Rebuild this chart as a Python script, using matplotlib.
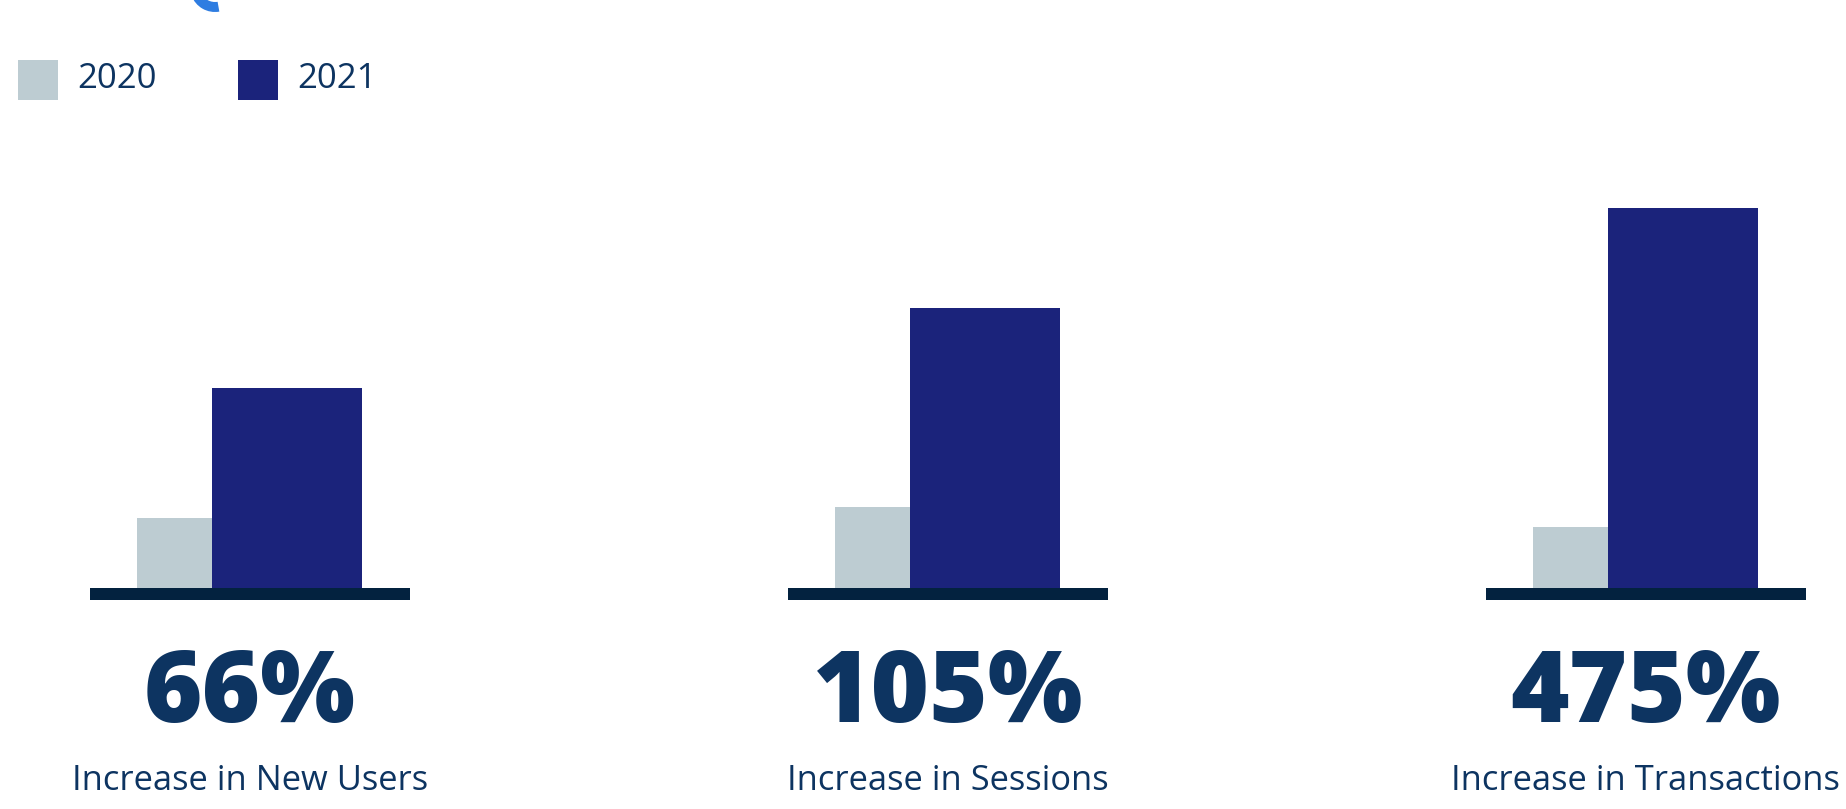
import matplotlib
matplotlib.use("Agg")
import matplotlib.pyplot as plt
from matplotlib.patches import Rectangle, Wedge

# data (bar heights in arbitrary units)
categories = ["Increase in New Users", "Increase in Sessions", "Increase in Transactions"]
pct_labels = ["66%", "105%", "475%"]
vals_2020 = [70, 81, 61]
vals_2021 = [200, 280, 380]
years = ["2020", "2021"]

GRAY = "#bdccd2"
NAVY = "#1b237b"
BASE = "#03223f"
TEXT = "#0d3461"

W, H = 1846, 809
fig = plt.figure(figsize=(W / 100, H / 100), dpi=100)
ax = fig.add_axes([0, 0, 1, 1])
ax.set_axis_off()

# one x unit = distance between group centres (~698 px)
unit = 698.1
x0 = 249.7
ax.set_xlim(-x0 / unit, (W - x0) / unit)
ax.set_ylim(-(H - 588), 588)

xs = list(range(len(categories)))
ax.bar([x - 0.1077 for x in xs], vals_2020, width=0.1074, color=GRAY, lw=0)
ax.bar([x + 0.0534 for x in xs], vals_2021, width=0.2149, color=NAVY, lw=0)
ax.bar(xs, [12] * len(xs), bottom=-12, width=0.4584, color=BASE, lw=0)

for x, pct, cat in zip(xs, pct_labels, categories):
    ax.text(x, -134, pct, ha="center", va="baseline", fontsize=72,
            fontweight="heavy", family=["Open Sans", "DejaVu Sans"], color=TEXT)
    ax.text(x, -202, cat, ha="center", va="baseline", fontsize=24.8,
            family=["Open Sans", "DejaVu Sans"], color=TEXT)

# legend drawn by hand at top-left
for i, (yr, col) in enumerate(zip(years, [GRAY, NAVY])):
    left = 18 + i * 220
    fig.patches.append(Rectangle((left / W, (H - 100) / H), 40 / W, 40 / H,
                                 transform=fig.transFigure, color=col, lw=0))
    fig.text((left + 59) / W, (H - 88) / H, yr, fontsize=25, color=TEXT,
             family=["Open Sans", "DejaVu Sans"], va="baseline")

# bit of a blue logo cut off at the top edge
fig.patches.append(Wedge((2.15, 8.22), 0.25, 200, 280, width=0.1,
                         transform=fig.dpi_scale_trans, color="#2f7de1", lw=0))

fig.savefig("out.png", dpi=100)
